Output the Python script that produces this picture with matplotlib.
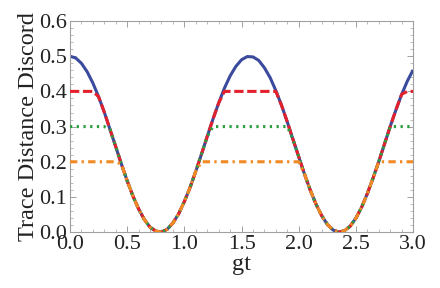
import numpy as np
import matplotlib
matplotlib.use("Agg")
import matplotlib.pyplot as plt
from matplotlib.ticker import MultipleLocator, FormatStrFormatter

# gt values and trace distance discord
gt = [0.00, 0.05, 0.10, 0.15, 0.20, 0.25, 0.30, 0.35, 0.40, 0.45,
      0.50, 0.55, 0.60, 0.65, 0.70, 0.75, 0.80, 0.85, 0.90, 0.95,
      1.00, 1.05, 1.10, 1.15, 1.20, 1.25, 1.30, 1.35, 1.40, 1.45,
      1.50, 1.55, 1.60, 1.65, 1.70, 1.75, 1.80, 1.85, 1.90, 1.95,
      2.00, 2.05, 2.10, 2.15, 2.20, 2.25, 2.30, 2.35, 2.40, 2.45,
      2.50, 2.55, 2.60, 2.65, 2.70, 2.75, 2.80, 2.85, 2.90, 2.95, 3.00]
discord = [0.500, 0.495, 0.480, 0.456, 0.424, 0.385, 0.341, 0.292, 0.243, 0.193,
           0.146, 0.103, 0.066, 0.036, 0.014, 0.003, 0.000, 0.008, 0.026, 0.052,
           0.087, 0.127, 0.173, 0.222, 0.272, 0.321, 0.367, 0.409, 0.444, 0.471,
           0.490, 0.499, 0.498, 0.488, 0.467, 0.439, 0.402, 0.360, 0.313, 0.263,
           0.214, 0.165, 0.120, 0.080, 0.047, 0.022, 0.006, 0.000, 0.004, 0.017,
           0.040, 0.071, 0.110, 0.154, 0.201, 0.251, 0.301, 0.348, 0.392, 0.430, 0.461]
# saturation levels of the capped curves
caps = [0.4, 0.3, 0.2]

plt.rcParams['font.family'] = ['Liberation Serif', 'DejaVu Serif']
plt.rcParams['font.serif'] = ['Liberation Serif']

fig = plt.figure(figsize=(4.4, 2.88), dpi=100)
ax = fig.add_axes([0.159, 0.194, 0.780, 0.733])

x = np.array(gt)
y = np.array(discord)
LW = 2.2
ax.plot(x, y, color='#3a4a9c', lw=LW, solid_capstyle='butt', zorder=2)
styles = [
    dict(color='#e4202c', dashes=(3.05, 1.2)),
    dict(color='#2ca040', dashes=(0.75, 1.45)),
    dict(color='#f08a24', dashes=(2.4, 1.4, 0.75, 1.4)),
]
for c, st in zip(caps, styles):
    ax.plot(x, np.minimum(y, c), lw=LW, zorder=3, **st)

ax.set_xlim(0, 3)
ax.set_ylim(0, 0.6)
ax.xaxis.set_major_locator(MultipleLocator(0.5))
ax.xaxis.set_minor_locator(MultipleLocator(0.1))
ax.yaxis.set_major_locator(MultipleLocator(0.1))
ax.yaxis.set_minor_locator(MultipleLocator(0.02))
ax.xaxis.set_major_formatter(FormatStrFormatter('%.1f'))
ax.yaxis.set_major_formatter(FormatStrFormatter('%.1f'))

frame = '#a0a0a0'
for s in ax.spines.values():
    s.set_color(frame)
    s.set_linewidth(0.8)
ax.tick_params(which='both', direction='in', top=True, right=True, colors=frame,
               labelcolor='#222222', labelsize=16, pad=2)
ax.tick_params(which='major', length=4, width=0.7)
ax.tick_params(which='minor', length=2.2, width=0.5)
for lab in ax.get_xticklabels() + ax.get_yticklabels():
    lab.set_fontfamily('Liberation Serif')

ax.set_xlabel('gt', fontsize=17.5, color='#222222', labelpad=0, fontfamily='Liberation Serif')
ax.set_ylabel('Trace Distance Discord', fontsize=17.5, color='#222222', labelpad=0,
              fontfamily='Liberation Serif')

fig.savefig('out.png', dpi=100)
